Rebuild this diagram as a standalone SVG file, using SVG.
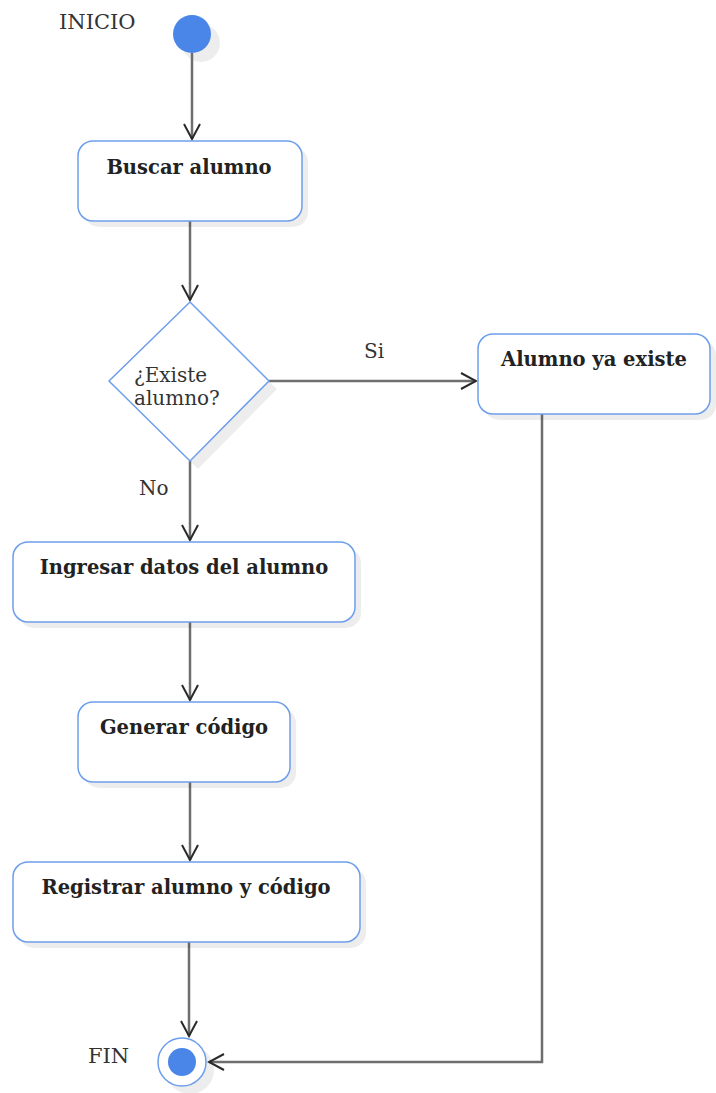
<svg xmlns="http://www.w3.org/2000/svg" width="716" height="1093" viewBox="0 0 716 1093">
<style>
.box{fill:#fff;stroke:#6d9eeb;stroke-width:1.5}
.sh{fill:#000;opacity:0.07}
.t{font-family:"DejaVu Serif","Liberation Serif",serif;font-size:19.5px;font-weight:bold;fill:#222;text-anchor:middle}
.r{font-family:"DejaVu Serif","Liberation Serif",serif;font-size:20px;fill:#333}
.u{font-family:"DejaVu Serif","Liberation Serif",serif;font-size:21px;fill:#333}
.c{fill:none;stroke:#6e6e6e;stroke-width:2.5}
</style>
<defs>
<marker id="a" viewBox="0 0 20 20" refX="18" refY="10" markerWidth="20" markerHeight="20" markerUnits="userSpaceOnUse" orient="auto">
<path d="M3,2 L18,10 L3,18" fill="none" stroke="#2a2a2a" stroke-width="2"/>
</marker>
</defs>
<text class="u" x="59" y="29">INICIO</text>
<text class="u" x="88" y="1063">FIN</text>
<g id="start">
<circle class="sh" cx="201" cy="43" r="19"/>
<circle cx="192" cy="34" r="19" fill="#4a86e8"/>
</g>
<g id="connectors">
<path class="c" d="M192,53 V139" marker-end="url(#a)"/>
<path class="c" d="M190,221 V300" marker-end="url(#a)"/>
<path class="c" d="M269,381 H476" marker-end="url(#a)"/>
<path class="c" d="M190,461 V540" marker-end="url(#a)"/>
<path class="c" d="M190,622 V700" marker-end="url(#a)"/>
<path class="c" d="M190,782 V860" marker-end="url(#a)"/>
<path class="c" d="M189,942 V1036" marker-end="url(#a)"/>
<path class="c" d="M542,414 V1062 H209" marker-end="url(#a)"/>
<text class="r" x="364" y="358">Si</text>
<text class="r" x="139" y="495">No</text>
</g>
<g id="buscar">
<rect class="sh" x="84" y="147" width="224" height="80" rx="15"/>
<rect class="box" x="78" y="141" width="224" height="80" rx="15"/>
<text class="t" x="189" y="174">Buscar alumno</text>
</g>
<g id="existe">
<path class="sh" d="M190,310 L277,389 L198,469 L117,389 Z"/>
<path d="M190,302 L269,381 L190,461 L109,381 Z" fill="#fff" stroke="#6d9eeb" stroke-width="1.5"/>
<text class="r" x="134" y="382">¿Existe</text>
<text class="r" x="134" y="405">alumno?</text>
</g>
<g id="yaexiste">
<rect class="sh" x="484" y="340" width="232" height="80" rx="15"/>
<rect class="box" x="478" y="334" width="232" height="80" rx="15"/>
<text class="t" x="594" y="366">Alumno ya existe</text>
</g>
<g id="ingresar">
<rect class="sh" x="19" y="548" width="342" height="80" rx="15"/>
<rect class="box" x="13" y="542" width="342" height="80" rx="15"/>
<text class="t" x="184" y="574">Ingresar datos del alumno</text>
</g>
<g id="generar">
<rect class="sh" x="84" y="708" width="212" height="80" rx="15"/>
<rect class="box" x="78" y="702" width="212" height="80" rx="15"/>
<text class="t" x="184" y="734">Generar código</text>
</g>
<g id="registrar">
<rect class="sh" x="19" y="868" width="347" height="80" rx="15"/>
<rect class="box" x="13" y="862" width="347" height="80" rx="15"/>
<text class="t" x="186" y="894">Registrar alumno y código</text>
</g>
<g id="fin">
<circle class="sh" cx="190" cy="1070" r="24"/>
<circle cx="182" cy="1062" r="24" fill="#fff" stroke="#6d9eeb" stroke-width="1.5"/>
<circle cx="182" cy="1062" r="14" fill="#4a86e8"/>
</g>
</svg>
